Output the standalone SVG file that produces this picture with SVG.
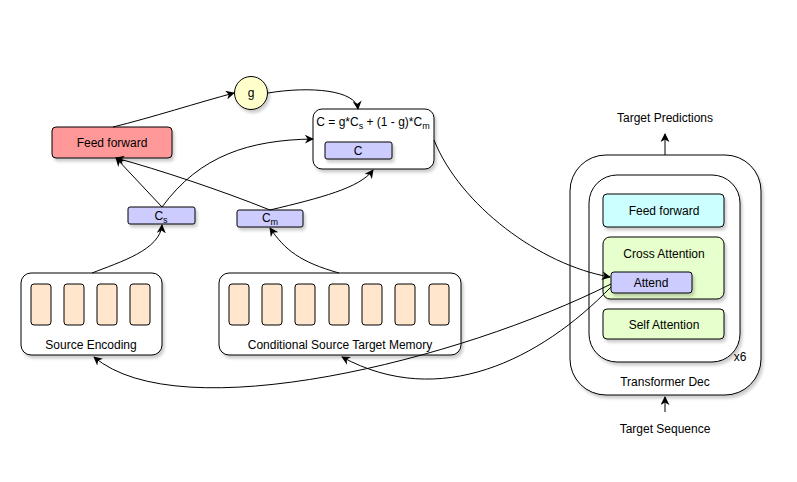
<svg xmlns="http://www.w3.org/2000/svg" width="797" height="482" viewBox="0 0 797 482">
<defs>
<filter id="sh" x="-20%" y="-20%" width="150%" height="150%">
<feDropShadow dx="2" dy="3" stdDeviation="1.5" flood-color="#000" flood-opacity="0.2"/>
</filter>
<marker id="ar" viewBox="0 0 10 10" refX="9" refY="5" markerWidth="9" markerHeight="9" orient="auto" markerUnits="userSpaceOnUse">
<path d="M0,0 L10,5 L0,10 L3,5 z" fill="#000"/>
</marker>
</defs>
<style>
text{font-family:"Liberation Sans",Arial,sans-serif;font-size:12px;fill:#000;text-anchor:middle}
.b{stroke:#000;stroke-width:1;filter:url(#sh)}
.w{fill:#fff}
.cell{fill:#ffe6cc;stroke:#000;stroke-width:1}
.v{fill:#ccccff}
.c{fill:none;stroke:#000;stroke-width:1;marker-end:url(#ar)}
.n{fill:none;stroke:#000;stroke-width:1}
</style>
<rect width="797" height="482" fill="#fff"/>

<g id="transformer-dec">
<rect class="b w" x="570" y="155" width="191" height="240" rx="36"/>
<text x="665" y="386">Transformer Dec</text>
</g>
<g id="decoder-layer">
<rect class="b w" x="589" y="175" width="151" height="187" rx="28"/>
<text x="740" y="361">x6</text>
</g>
<g id="dec-feed-forward">
<rect class="b" fill="#ccffff" x="603" y="194" width="121" height="33" rx="4"/>
<text x="664" y="215">Feed forward</text>
</g>
<g id="cross-attention">
<rect class="b" fill="#e6ffcc" x="603" y="237" width="121" height="62" rx="7"/>
<text x="664" y="258">Cross Attention</text>
</g>
<g id="attend">
<rect class="b v" x="611" y="272" width="81" height="21" rx="3"/>
<text x="651" y="287">Attend</text>
</g>
<g id="self-attention">
<rect class="b" fill="#e6ffcc" x="603" y="309" width="121" height="30" rx="4"/>
<text x="664" y="329">Self Attention</text>
</g>
<g id="target-predictions"><text x="665" y="122">Target Predictions</text></g>
<g id="target-sequence"><text x="665" y="433">Target Sequence</text></g>

<g id="source-encoding">
<rect class="b w" x="21" y="273" width="141" height="82" rx="10"/>
<rect class="cell" x="31" y="284" width="20" height="41" rx="3"/>
<rect class="cell" x="64" y="284" width="20" height="41" rx="3"/>
<rect class="cell" x="97" y="284" width="20" height="41" rx="3"/>
<rect class="cell" x="130" y="284" width="20" height="41" rx="3"/>
<text x="91" y="349">Source Encoding</text>
</g>
<g id="memory">
<rect class="b w" x="219" y="273" width="242" height="82" rx="10"/>
<rect class="cell" x="229" y="284" width="20" height="41" rx="3"/>
<rect class="cell" x="262" y="284" width="20" height="41" rx="3"/>
<rect class="cell" x="295" y="284" width="20" height="41" rx="3"/>
<rect class="cell" x="329" y="284" width="20" height="41" rx="3"/>
<rect class="cell" x="362" y="284" width="20" height="41" rx="3"/>
<rect class="cell" x="395" y="284" width="20" height="41" rx="3"/>
<rect class="cell" x="429" y="284" width="20" height="41" rx="3"/>
<text x="340" y="349">Conditional Source Target Memory</text>
</g>
<g id="cs">
<rect class="b v" x="128" y="207" width="67" height="17" rx="2"/>
<text x="161" y="220">C<tspan font-size="9" dy="3">s</tspan></text>
</g>
<g id="cm">
<rect class="b v" x="237" y="210" width="66" height="17" rx="2"/>
<text x="270" y="222">C<tspan font-size="9" dy="3">m</tspan></text>
</g>
<g id="feed-forward">
<rect class="b" fill="#ff9999" x="52" y="127" width="120" height="31" rx="4"/>
<text x="112" y="147">Feed forward</text>
</g>
<g id="gate">
<circle class="b" fill="#ffffcc" cx="251" cy="93" r="16.5"/>
<text x="251" y="97">g</text>
</g>
<g id="combine">
<rect class="b w" x="313" y="109" width="121" height="60" rx="9"/>
<text x="373" y="126">C = g*C<tspan font-size="9" dy="3">s</tspan><tspan dy="-3"> + (1 - g)*C</tspan><tspan font-size="9" dy="3">m</tspan></text>
<rect class="b v" x="325" y="142" width="67" height="17" rx="2"/>
<text x="358" y="155">C</text>
</g>

<g id="connectors">
<path class="c" d="M113,127 C150,118 200,102 234,93"/>
<path class="c" d="M268,93 C310,86 356,90 358,109"/>
<path class="c" d="M162,207 L116,158"/>
<path class="c" d="M162,207 C200,155 250,140 313,139"/>
<path class="c" d="M270,210 C220,190 160,170 116,158"/>
<path class="c" d="M270,210 C320,198 360,188 373,170"/>
<path class="c" d="M92,273 C120,262 160,250 162,225"/>
<path class="c" d="M339,273 C300,262 285,250 270,228"/>
<path class="c" d="M434,140 C460,205 540,265 610,277"/>
<path class="c" d="M611,284 C460,360 180,430 94,357"/>
<path class="c" d="M611,287 C540,360 440,410 342,357"/>
<path class="c" d="M665,155 L665,134"/>
<path class="c" d="M665,412 L665,397"/>
</g>
</svg>
